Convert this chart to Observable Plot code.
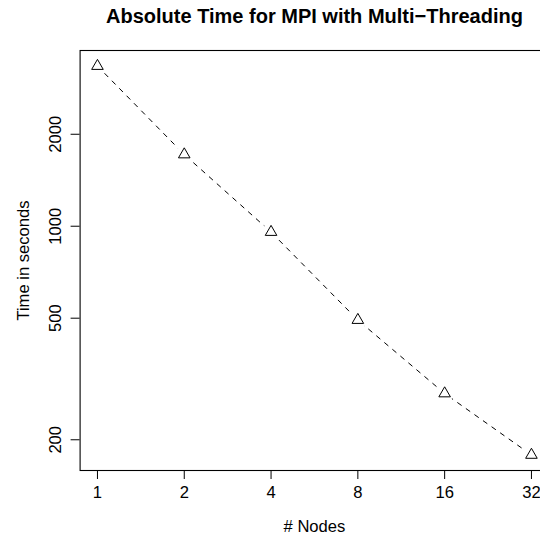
<!DOCTYPE html>
<html>
<head>
<meta charset="utf-8">
<script src="https://cdn.jsdelivr.net/npm/d3@7"></script>
<script src="https://cdn.jsdelivr.net/npm/@observablehq/plot@0.6"></script>
<style>
  html, body { margin: 0; padding: 0; background: #fff; overflow: hidden; width: 540px; height: 533px; }
  #chart { width: 600px; }
  #chart svg { display: block; max-width: none !important; width: 600px !important; height: 533px !important; }
</style>
</head>
<body>
<div id="chart"></div>
<script>
// Data
const nodes = [1, 2, 4, 8, 16, 32];
const seconds = [3344, 1717, 957, 493, 283.5, 178.4];
const xTicks = [1, 2, 4, 8, 16, 32];
const yTicks = [200, 500, 1000, 2000];
const title = "Absolute Time for MPI with Multi\u2212Threading";
const xLabel = "# Nodes";
const yLabel = "Time in seconds";

const data = nodes.map((n, i) => ({n, t: seconds[i]}));

// R-style 4% padding on log axes
const lx = d3.extent(nodes, d => Math.log2(d));
const px = (lx[1] - lx[0]) * 0.04;
const ly = d3.extent(seconds, d => Math.log10(d));
const py = (ly[1] - ly[0]) * 0.04;

const font = "'Liberation Sans', Arial, Helvetica, sans-serif";
const fs = 16.6;

const chart = Plot.plot({
  width: 600,
  height: 533,
  marginLeft: 79.6,
  marginRight: 51.7,
  marginTop: 50,
  marginBottom: 63,
  style: {fontFamily: font, background: "#fff", color: "black", maxWidth: "none"},
  x: {type: "log", base: 2, domain: [2 ** (lx[0] - px), 2 ** (lx[1] + px)]},
  y: {type: "log", domain: [10 ** (ly[0] - py), 10 ** (ly[1] + py)]},
  marks: [
    Plot.frame({stroke: "black", strokeWidth: 1.1}),
    Plot.axisX(xTicks, {anchor: "bottom", tickSize: 9, tickPadding: 7, label: null, fontSize: fs, tickFormat: d => String(d), stroke: "black", fill: "black"}),
    Plot.axisY(yTicks, {anchor: "left", tickSize: 9, text: null, label: null, stroke: "black"}),
    Plot.text(yTicks, {y: d => d, text: d => String(d), frameAnchor: "left", dx: -19.6, rotate: -90, textAnchor: "middle", lineAnchor: "bottom", fontSize: fs, fill: "black"}),
    Plot.text([yLabel], {text: d => d, frameAnchor: "left", dx: -51.6, rotate: -90, textAnchor: "middle", lineAnchor: "bottom", fontSize: fs, fill: "black"}),
    Plot.text([xLabel], {text: d => d, frameAnchor: "bottom", dy: 61, textAnchor: "middle", lineAnchor: "bottom", fontSize: fs, fill: "black"}),
    Plot.text([title], {text: d => d, frameAnchor: "top", dy: -27.5, textAnchor: "middle", lineAnchor: "bottom", fontSize: 20, fontWeight: "bold", fill: "black"}),
    Plot.line(data, {x: "n", y: "t", stroke: "black", strokeWidth: 1, strokeDasharray: "4.5,6"}),
    Plot.dot(data, {x: "n", y: "t", r: 9, fill: "white", stroke: "none"}),
    Plot.dot(data, {x: "n", y: "t", symbol: "triangle", r: 4.3, fill: "none", stroke: "black", strokeWidth: 1})
  ]
});
document.getElementById("chart").append(chart);
</script>
</body>
</html>
